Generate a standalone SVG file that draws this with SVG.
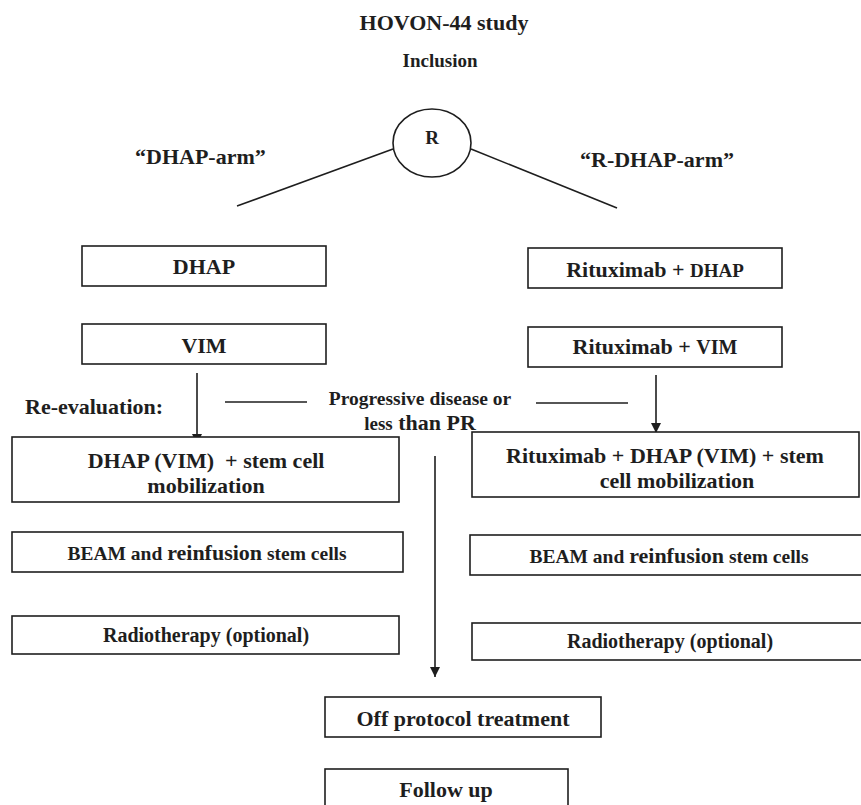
<svg xmlns="http://www.w3.org/2000/svg" width="861" height="805" viewBox="0 0 861 805">
<style>
text{font-family:"Liberation Serif","Times New Roman",serif;font-weight:bold;fill:#1e1e1e;}
.box{fill:#fff;stroke:#1e1e1e;stroke-width:1.6;}
.ln{stroke:#1e1e1e;stroke-width:1.6;fill:none;}
.c{text-anchor:middle;}
.s{font-size:19px;}
</style>
<defs>
<marker id="ah" viewBox="0 0 10 10" refX="10" refY="5" markerWidth="10" markerHeight="10" markerUnits="userSpaceOnUse" orient="auto">
<path d="M0,0 L10,5 L0,10 z" fill="#1e1e1e"/>
</marker>
</defs>
<rect width="861" height="805" fill="#fff"/>

<g id="title">
<text x="444" y="30" class="c" font-size="22">HOVON-44 study</text>
<text x="440" y="67" class="c" font-size="19">Inclusion</text>
</g>

<g id="randomize">
<ellipse cx="432" cy="143" rx="39" ry="34" class="box"/>
<text x="432" y="144" class="c" font-size="19">R</text>
</g>

<g id="arm-labels">
<text x="135" y="164" font-size="22">“DHAP-arm”</text>
<text x="580" y="167" font-size="22">“R-DHAP-arm”</text>
</g>

<g id="connectors">
<line class="ln" x1="393" y1="149" x2="237" y2="206"/>
<line class="ln" x1="471" y1="149" x2="617" y2="208"/>
<line class="ln" x1="197" y1="373" x2="197" y2="444" marker-end="url(#ah)"/>
<line class="ln" x1="656" y1="375" x2="656" y2="433" marker-end="url(#ah)"/>
<line class="ln" x1="435" y1="456" x2="435" y2="677" marker-end="url(#ah)"/>
<line class="ln" x1="225" y1="402" x2="307" y2="402"/>
<line class="ln" x1="536" y1="403" x2="628" y2="403"/>
</g>

<g id="dhap">
<rect class="box" x="82" y="246" width="244" height="40"/>
<text x="204" y="274" class="c" font-size="22">DHAP</text>
</g>

<g id="r-dhap">
<rect class="box" x="528" y="248" width="254" height="40"/>
<text x="655" y="277" class="c" font-size="22">Rituximab + <tspan font-size="19">DHAP</tspan></text>
</g>

<g id="vim">
<rect class="box" x="82" y="324" width="244" height="40"/>
<text x="204" y="353" class="c" font-size="22">VIM</text>
</g>

<g id="r-vim">
<rect class="box" x="528" y="327" width="254" height="40"/>
<text x="655" y="354" class="c" font-size="22">Rituximab + <tspan font-size="20">VIM</tspan></text>
</g>

<g id="reevaluation">
<text x="25" y="414" font-size="22">Re-evaluation:</text>
</g>

<g id="progressive">
<text x="420" y="405" class="c" font-size="19.5">Progressive disease or</text>
<text x="420" y="430" class="c" font-size="22"><tspan font-size="19">less</tspan> than PR</text>
</g>

<g id="dhap-mob">
<rect class="box" x="12" y="437" width="387" height="65"/>
<text x="206" y="468" class="c" font-size="22" xml:space="preserve">DHAP (VIM)  + stem cell</text>
<text x="206" y="493" class="c" font-size="22">mobilization</text>
</g>

<g id="r-dhap-mob">
<rect class="box" x="472" y="432" width="387" height="65"/>
<text x="665" y="463" class="c" font-size="22">Rituximab + DHAP (VIM) + stem</text>
<text x="677" y="488" class="c" font-size="22">cell mobilization</text>
</g>

<g id="beam-left">
<rect class="box" x="12" y="532" width="391" height="40"/>
<text x="207" y="560" class="c" font-size="19.5">BEAM and <tspan font-size="22">reinfusion</tspan> stem cells</text>
</g>

<g id="beam-right">
<rect class="box" x="470" y="535" width="400" height="40"/>
<text x="669" y="563" class="c" font-size="19.5">BEAM and <tspan font-size="22">reinfusion</tspan> stem cells</text>
</g>

<g id="radio-left">
<rect class="box" x="12" y="616" width="387" height="38"/>
<text x="206" y="642" class="c" font-size="20">Radiotherapy (optional)</text>
</g>

<g id="radio-right">
<rect class="box" x="472" y="623" width="400" height="37"/>
<text x="670" y="648" class="c" font-size="20">Radiotherapy (optional)</text>
</g>

<g id="off-protocol">
<rect class="box" x="325" y="697" width="276" height="40"/>
<text x="463" y="726" class="c" font-size="22">Off protocol treatment</text>
</g>

<g id="follow-up">
<rect class="box" x="325" y="769" width="243" height="45"/>
<text x="446" y="797" class="c" font-size="22">Follow up</text>
</g>
</svg>
